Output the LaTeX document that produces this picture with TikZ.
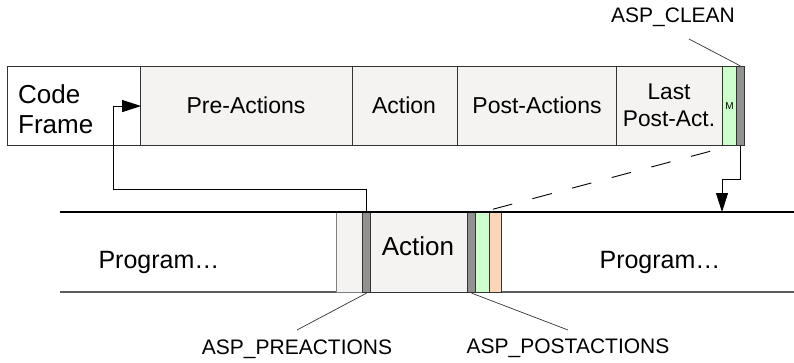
\documentclass[tikz,border=0pt]{standalone}
\usepackage{fontspec}
\setmainfont{Liberation Sans}
\usetikzlibrary{arrows.meta}
\definecolor{boxgray}{HTML}{F4F3F2}
\definecolor{bargray}{HTML}{929292}
\definecolor{mgreen}{HTML}{CCFFCC}
\definecolor{peach}{HTML}{FFD5B8}
\definecolor{edge}{HTML}{333333}
\tikzset{
  cell/.style={draw=edge, line width=1.1pt, inner sep=0pt, anchor=north west},
  txt/.style={inner sep=0pt, anchor=base},
  conn/.style={line width=0.9pt, -{Triangle[length=19pt,width=12pt]}},
  leader/.style={line width=0.7pt, draw=edge},
}
\begin{document}
\begin{tikzpicture}[x=1pt,y=-1pt]
\useasboundingbox (0,0) rectangle (794,362);
% ---- top bar (code frame) ----
\node[cell, fill=white, minimum width=133pt, minimum height=79pt] (cf) at (7,66) {};
\node[cell, fill=boxgray, minimum width=212pt, minimum height=79pt] (pre) at (140,66) {};
\node[cell, fill=boxgray, minimum width=105pt, minimum height=79pt] (act) at (352,66) {};
\node[cell, fill=boxgray, minimum width=159pt, minimum height=79pt] (post) at (457,66) {};
\node[cell, fill=boxgray, minimum width=106pt, minimum height=79pt] (last) at (616,66) {};
\node[cell, fill=mgreen, minimum width=14pt, minimum height=79pt] (mbox) at (722,66) {};
\node[cell, fill=bargray, minimum width=8pt, minimum height=79pt] (clean) at (736,66) {};
\node[txt, anchor=base west, font=\fontsize{26}{30}\selectfont] (tcode) at (18,103) {Code};
\node[txt, anchor=base west, font=\fontsize{26}{30}\selectfont] (tframe) at (18,133) {Frame};
\node[txt, font=\fontsize{23}{27}\selectfont] (tpre) at (246,113) {Pre-Actions};
\node[txt, font=\fontsize{23}{27}\selectfont] (tact) at (404,113) {Action};
\node[txt, font=\fontsize{23}{27}\selectfont] (tpost) at (537,113) {Post-Actions};
\node[txt, font=\fontsize{22.7}{27}\selectfont] (tlast) at (669,99) {Last};
\node[txt, font=\fontsize{22.7}{27}\selectfont] (tlastb) at (669,126) {Post-Act.};
\node[inner sep=0pt, font=\fontsize{10}{12}\selectfont] (tm) at (mbox.center) {M};
% ---- bottom program line ----
\coordinate (tl) at (60,212);
\coordinate (tr) at (794,212);
\coordinate (bl) at (60,292);
\coordinate (br) at (794,292);
\draw[line width=1.1pt, black] (tl) -- (tr);
\draw[line width=1.1pt, edge!80!white] (bl) -- (br);
\node[draw=gray, line width=1.1pt, fill=boxgray, inner sep=0pt, anchor=north west, minimum width=26pt, minimum height=80pt] (lg) at (336,212) {};
\node[cell, fill=bargray, minimum width=8pt, minimum height=80pt] (preb) at (362,212) {};
\node[cell, fill=boxgray, minimum width=97pt, minimum height=80pt] (actb) at (370,212) {};
\node[cell, fill=bargray, minimum width=8pt, minimum height=80pt] (postb) at (467,212) {};
\node[cell, fill=mgreen, minimum width=14pt, minimum height=80pt] (greenb) at (475,212) {};
\node[cell, fill=peach, minimum width=12pt, minimum height=80pt] (peachb) at (489,212) {};
\draw[line width=1.1pt, black] (lg.north west) -- (tr);
\node[txt, font=\fontsize{26}{30}\selectfont] (tactb) at (418,255) {Action};
\node[txt, font=\fontsize{25}{30}\selectfont] (tprogl) at (159,268) {Program…};
\node[txt, font=\fontsize{25}{30}\selectfont] (tprogr) at (660,268) {Program…};
% ---- labels ----
\node[txt, font=\fontsize{21}{25}\selectfont] (lclean) at (673,22) {ASP\_CLEAN};
\node[txt, font=\fontsize{21}{25}\selectfont] (lpre) at (297,354) {ASP\_PREACTIONS};
\node[txt, font=\fontsize{21}{25}\selectfont] (lpost) at (568,353) {ASP\_POSTACTIONS};
\coordinate (kclean) at (689,39);
\coordinate (kpre) at (297,330);
\coordinate (kpost) at (568,330);
\draw[leader] (kclean) -- (clean.north);
\draw[leader] (kpre) -- (preb.south);
\draw[leader] (kpost) -- (postb.south);
% ---- connectors ----
\coordinate (c1) at (113,189);
\draw[conn] (preb.north) |- (c1) |- (cf.east);
\coordinate (c3) at (722,212);
\draw[conn] (clean.south) -- ++(0,33) -| (c3);
\draw[line width=0.9pt, dash pattern=on 20pt off 21pt, dash phase=21pt] (mbox.south) -- (greenb.north);
\end{tikzpicture}
\end{document}
